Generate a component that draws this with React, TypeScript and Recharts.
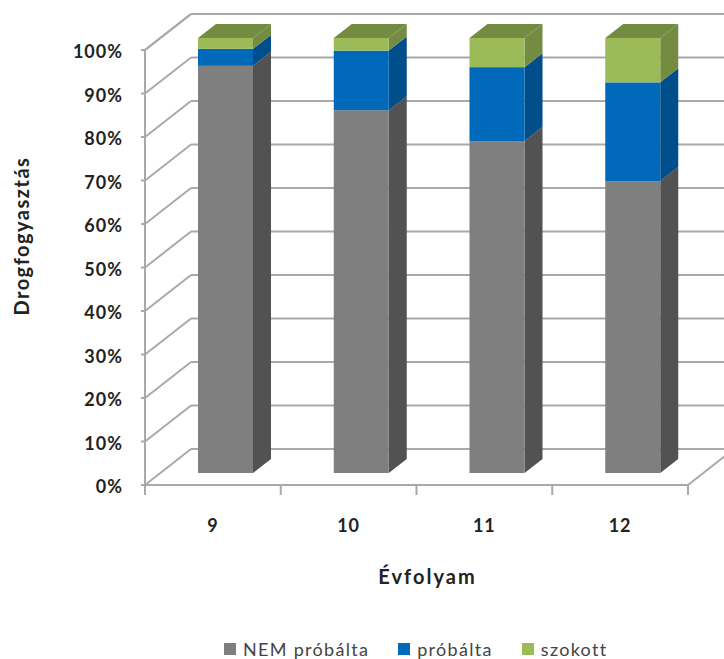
import React from "react";
import { BarChart, Bar, XAxis, YAxis, CartesianGrid, Legend } from "recharts";

const grades = ["9", "10", "11", "12"];
const nemProbalta = [93.6, 83.4, 76.3, 67.1];
const probalta = [3.9, 13.7, 17.0, 22.7];
const szokott = [2.5, 2.9, 6.7, 10.2];
const yTicks = [0, 10, 20, 30, 40, 50, 60, 70, 80, 90, 100];
const edgeTicks = [0, 1, 2, 3, 4];

const chartData = grades.map((g, i) => ({
  grade: g,
  edge: edgeTicks[i],
  nem: nemProbalta[i],
  prob: probalta[i],
  szok: szokott[i],
}));

const font = "Lato, 'Open Sans', sans-serif";
const gridColor = "#a9a9a9";

// depth of the walls and of the bars (the fake 3D look)
const wallDx = 46;
const wallDy = -36;
const barDx = 13;
const barDy = -12;
const sideDx = 18;
const sideDy = -14;

function wallLine(props: any) {
  const { x1, x2, y1 } = props;
  return (
    <g key={props.key ?? y1}>
      <line x1={x1} y1={y1} x2={x1 + wallDx} y2={y1 + wallDy} stroke={gridColor} strokeWidth={2} />
      <line x1={x1 + wallDx} y1={y1 + wallDy} x2={x2 + wallDx} y2={y1 + wallDy} stroke={gridColor} strokeWidth={2} />
      {y1 > 480 && (
        <line x1={x2} y1={y1} x2={x2 + wallDx} y2={y1 + wallDy} stroke={gridColor} strokeWidth={2} />
      )}
    </g>
  );
}

function box(front: string, side: string, top: string | null) {
  return (props: any) => {
    const x = props.x + barDx;
    const y = props.y + barDy;
    const { width: w, height: h } = props;
    return (
      <g>
        <polygon
          points={`${x + w},${y} ${x + w + sideDx},${y + sideDy} ${x + w + sideDx},${y + h + sideDy} ${x + w},${y + h}`}
          fill={side}
        />
        {top && (
          <polygon
            points={`${x},${y} ${x + sideDx},${y + sideDy} ${x + w + sideDx},${y + sideDy} ${x + w},${y}`}
            fill={top}
          />
        )}
        <rect x={x} y={y} width={w} height={h} fill={front} />
      </g>
    );
  };
}

function legendContent(props: any) {
  return (
    <div style={{ display: "flex", fontFamily: font, fontSize: 18, lineHeight: "16px", color: "#444", letterSpacing: 1.3 }}>
      {props.payload.map((p: any, i: number) => (
        <div key={p.value} style={{ display: "flex", alignItems: "center", marginRight: [29, 29, 0][i] }}>
          <span style={{ width: 12, height: 12, background: p.color, marginRight: 7, display: "inline-block" }} />
          {p.value}
        </div>
      ))}
    </div>
  );
}

const noLabel = () => <g />;

export default function App() {
  return (
    <div style={{ position: "absolute", left: 0, top: 0, width: 724, height: 659, background: "#fff" }}>
      <BarChart
        width={724}
        height={659}
        data={chartData}
        margin={{ top: 50, right: 36, bottom: 84, left: 85 }}
        barSize={55}
      >
        <CartesianGrid vertical={false} horizontal={wallLine} />
        <XAxis
          type="number"
          dataKey="edge"
          domain={[0, 4]}
          ticks={edgeTicks}
          interval={0}
          height={6}
          tick={noLabel}
          tickSize={10}
          stroke={gridColor}
          strokeWidth={2}
        />
        <XAxis
          xAxisId="cat"
          dataKey="grade"
          height={60}
          axisLine={false}
          tickLine={false}
          tickMargin={22}
          tick={{ fill: "#222", fontSize: 18, fontWeight: 700, fontFamily: font, letterSpacing: 1 }}
          label={{
            value: "Évfolyam",
            position: "insideBottom",
            dx: 11,
            offset: -33,
            fill: "#222",
            fontSize: 20,
            fontWeight: 700,
            fontFamily: font,
            letterSpacing: 2,
          }}
        />
        <YAxis
          width={60}
          domain={[0, 100]}
          ticks={yTicks}
          interval={0}
          tickFormatter={(v: number) => `${v}%`}
          tickSize={4}
          tickMargin={18}
          stroke={gridColor}
          strokeWidth={2}
          tick={{ fill: "#222", fontSize: 18, fontWeight: 700, fontFamily: font, stroke: "none", letterSpacing: 1, dy: 2 }}
          label={{
            value: "Drogfogyasztás",
            angle: -90,
            position: "insideLeft",
            dx: -68,
            dy: 48,
            fill: "#222",
            fontSize: 20,
            fontWeight: 700,
            fontFamily: font,
            letterSpacing: 1.5,
          }}
        />
        <Bar xAxisId="cat" dataKey="nem" name="NEM próbálta" stackId="a" fill="#7f7f7f" shape={box("#7f7f7f", "#525252", null)} isAnimationActive={false} />
        <Bar xAxisId="cat" dataKey="prob" name="próbálta" stackId="a" fill="#0069b9" shape={box("#0069b9", "#004f8a", null)} isAnimationActive={false} />
        <Bar xAxisId="cat" dataKey="szok" name="szokott" stackId="a" fill="#9bbb59" shape={box("#9bbb59", "#748c42", "#748c42")} isAnimationActive={false} />
        <Legend
          verticalAlign="bottom"
          height={24}
          content={legendContent}
          wrapperStyle={{ left: 224, width: 480, bottom: -6 }}
        />
      </BarChart>
    </div>
  );
}
